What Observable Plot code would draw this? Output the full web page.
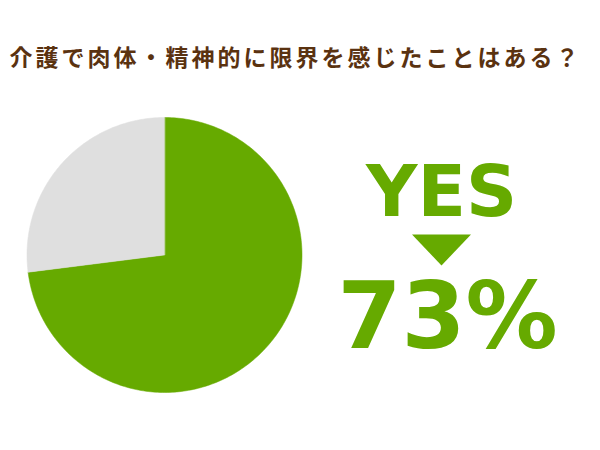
<!DOCTYPE html>
<html>
<head>
<meta charset="utf-8">
<script src="https://cdn.jsdelivr.net/npm/d3@7"></script>
<script src="https://cdn.jsdelivr.net/npm/@observablehq/plot@0.6"></script>
<style>
  html, body { margin: 0; padding: 0; background: #ffffff; }
  #chart { width: 600px; height: 450px; }
</style>
</head>
<body>
<div id="chart"></div>
<script>
// ---- data ----
const titleText = "介護で肉体・精神的に限界を感じたことはある？";
const answers = ["はい", "いいえ"];
const percents = [73, 27];
const sliceColors = ["#66aa00", "#dfdfdf"];
const headline = "YES";
const headlineValue = "73%";

// ---- build pie polygons (unit circle, clockwise from 12 o'clock) ----
const total = d3.sum(percents);
const pieRows = [];
let acc = 0;
answers.forEach((a, i) => {
  const a0 = acc / total * 2 * Math.PI;
  acc += percents[i];
  const a1 = acc / total * 2 * Math.PI;
  pieRows.push({answer: a, x: 0, y: 0});
  const steps = Math.max(2, Math.ceil((a1 - a0) / (Math.PI / 180)));
  for (let k = 0; k <= steps; k++) {
    const t = a0 + (a1 - a0) * k / steps;
    pieRows.push({answer: a, x: Math.sin(t), y: Math.cos(t)});
  }
});

const green = sliceColors[0];
const flatTriangle = {
  draw(context) {
    context.moveTo(-29.5, -15.5);
    context.lineTo(29.5, -15.5);
    context.lineTo(0, 15.5);
    context.closePath();
  }
};

const cx = 164, cy = 254.5, r = 137.5;

const chart = Plot.plot({
  width: 600,
  height: 450,
  margin: 0,
  style: {background: "#ffffff", overflow: "visible"},
  x: {domain: [-1, 1], range: [cx - r, cx + r], axis: null},
  y: {domain: [-1, 1], range: [cy + r, cy - r], axis: null},
  color: {domain: answers, range: sliceColors},
  marks: [
    Plot.line(pieRows, {
      x: "x", y: "y", z: "answer", fill: "answer",
      stroke: "answer", strokeWidth: 0.5, curve: "linear-closed"
    }),
    Plot.text([titleText], {
      text: d => d, frameAnchor: "top-left", dx: 9, dy: 65,
      textAnchor: "start", lineAnchor: "bottom",
      fontFamily: "'Noto Sans CJK JP', sans-serif", fontWeight: "bold",
      fontSize: 23, fill: "#5a3210"
    }),
    Plot.text([headline], {
      text: d => d, frameAnchor: "top-left", dx: 441, dy: 215,
      textAnchor: "middle", lineAnchor: "bottom",
      fontFamily: "'DejaVu Sans', Verdana, sans-serif", fontWeight: "bold",
      fontSize: 71, fill: green
    }),
    Plot.dot([0], {
      frameAnchor: "top-left", dx: 441, dy: 249.5,
      symbol: flatTriangle, fill: green, stroke: null
    }),
    Plot.text([headlineValue], {
      text: d => d, frameAnchor: "top-left", dx: 447, dy: 347,
      textAnchor: "middle", lineAnchor: "bottom",
      fontFamily: "'DejaVu Sans', Verdana, sans-serif", fontWeight: "bold",
      fontSize: 92, fill: green
    })
  ]
});
// letter spacing for the title (not a Plot text option)
d3.select(chart).selectAll("text")
  .filter(function () { return this.textContent === titleText; })
  .attr("letter-spacing", "3px");
document.getElementById("chart").appendChild(chart);
</script>
</body>
</html>
